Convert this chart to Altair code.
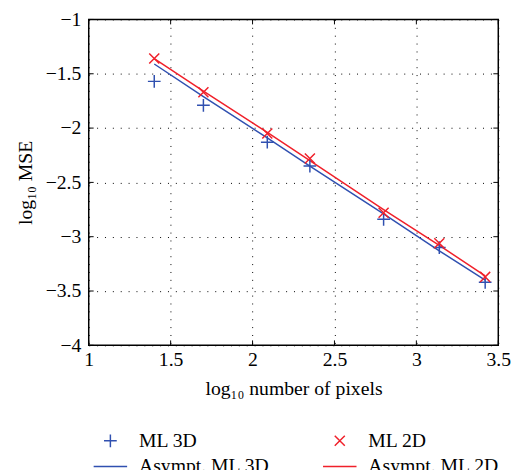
import altair as alt
import pandas as pd

# ---- data ----
x_vals = [1.40, 1.70, 2.09, 2.35, 2.80, 3.14, 3.42]
ml_3d = [-1.57, -1.79, -2.13, -2.35, -2.84, -3.10, -3.42]
ml_2d = [-1.36, -1.67, -2.05, -2.28, -2.78, -3.06, -3.37]
asympt_3d = [-1.41, -1.71, -2.09, -2.35, -2.79, -3.13, -3.40]
asympt_2d = [-1.36, -1.66, -2.04, -2.30, -2.75, -3.08, -3.36]

# legend fills column by column: ML 3D / Asympt 3D | ML 2D / Asympt 2D
series_names = ["ML 3D", "Asympt. ML 3D", "ML 2D", "Asympt. ML 2D"]
x_ticks = [1, 1.5, 2, 2.5, 3, 3.5]
y_ticks = [-4, -3.5, -3, -2.5, -2, -1.5, -1]

# ---- styles ----
BLUE = "#3050B0"
RED = "#F0202A"
colors = [BLUE, BLUE, RED, RED]
shapes = [
    "M-0.38,0L0.38,0M0,-0.38L0,0.38",
    "M-1,0L1,0",
    "M-0.3,-0.3L0.3,0.3M-0.3,0.3L0.3,-0.3",
    "M-1,0L1,0",
]
FONT = "Liberation Serif"
FS = 20
W, H = 416, 331

points = pd.DataFrame({
    "x": x_vals + x_vals,
    "y": ml_3d + ml_2d,
    "series": ["ML 3D"] * len(x_vals) + ["ML 2D"] * len(x_vals),
})
lines = pd.DataFrame({
    "x": x_vals + x_vals,
    "y": asympt_3d + asympt_2d,
    "series": ["Asympt. ML 3D"] * len(x_vals) + ["Asympt. ML 2D"] * len(x_vals),
})
xt = pd.DataFrame({"x": x_ticks})
yt = pd.DataFrame({"y": y_ticks})

x_enc = alt.X(
    "x:Q",
    scale=alt.Scale(domain=[1, 3.5], nice=False, zero=False),
    axis=alt.Axis(values=x_ticks, format="~g", title="log₁₀ number of pixels",
                  labelFlush=False, labelPadding=5, titlePadding=9),
)
y_enc = alt.Y(
    "y:Q",
    scale=alt.Scale(domain=[-4, -1], nice=False, zero=False),
    axis=alt.Axis(values=y_ticks, format="~g", title="log₁₀ MSE",
                  labelFlush=False, labelPadding=8, titlePadding=10),
)

legend = alt.Legend(
    title=None, orient="none", legendX=4, legendY=419, columns=2,
    symbolSize=1156, symbolStrokeWidth=1.5, labelFont=FONT, labelFontSize=FS,
    labelOffset=11, columnPadding=53, rowPadding=6, clipHeight=18,
    labelLimit=400, padding=0,
)
color_enc = alt.Color("series:N", scale=alt.Scale(domain=series_names, range=colors), legend=legend)
shape_enc = alt.Shape("series:N", scale=alt.Scale(domain=series_names, range=shapes), legend=legend)

line_layer = alt.Chart(lines).mark_line(strokeWidth=1.5).encode(
    x=x_enc, y=y_enc, color=color_enc, detail="series:N", order="x:Q"
)
point_layer = alt.Chart(points).mark_point(filled=False, strokeWidth=1.5, size=1156, opacity=1).encode(
    x=x_enc, y=y_enc, color=color_enc, shape=shape_enc
)

tick_style = dict(color="black", strokeWidth=1)
tb = alt.Chart(xt).mark_rule(**tick_style).encode(x=x_enc, y=alt.value(H), y2=alt.value(H - 5))
tt = alt.Chart(xt).mark_rule(**tick_style).encode(x=x_enc, y=alt.value(0), y2=alt.value(5))
tl = alt.Chart(yt).mark_rule(**tick_style).encode(y=y_enc, x=alt.value(0), x2=alt.value(5))
tr = alt.Chart(yt).mark_rule(**tick_style).encode(y=y_enc, x=alt.value(W), x2=alt.value(W - 5))

chart = alt.layer(tb, tt, tl, tr, line_layer, point_layer).properties(
    width=W, height=H,
    autosize=alt.AutoSizeParams(type="none"),
    padding={"left": 82, "top": 8, "right": 18, "bottom": 123},
).configure_view(
    stroke="black", strokeWidth=1.5
).configure_axis(
    domain=False, ticks=False,
    labelFont=FONT, labelFontSize=FS, labelColor="black",
    titleFont=FONT, titleFontSize=FS, titleColor="black", titleFontWeight="normal",
    grid=True, gridColor="black", gridDash=[1, 7], gridOpacity=1, gridWidth=1,
)

chart.save("out.html", embed_options={"renderer": "svg", "actions": False})
